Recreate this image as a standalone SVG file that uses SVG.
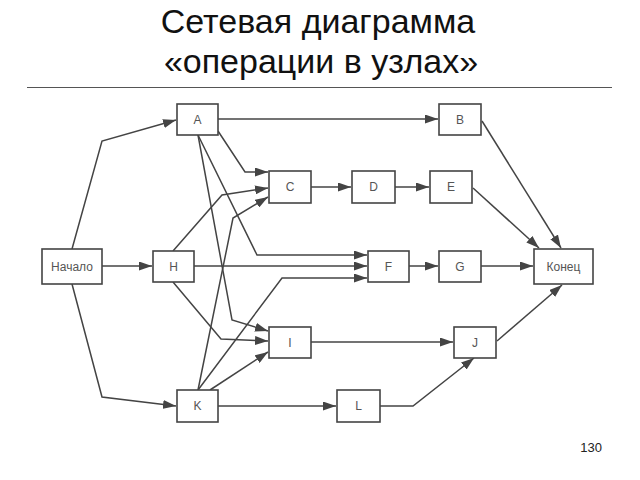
<svg xmlns="http://www.w3.org/2000/svg" width="640" height="480" viewBox="0 0 640 480">
<style>
.title{font-family:"Liberation Sans",Arial,sans-serif;font-size:34px;fill:#111;text-anchor:middle}
.box{fill:#fff;stroke:#444;stroke-width:1.6}
.lbl{font-family:"Liberation Sans",Arial,sans-serif;font-size:12px;fill:#555;text-anchor:middle;dominant-baseline:central}
.edge{fill:none;stroke:#444;stroke-width:1.5;marker-end:url(#arr)}
.page{font-family:"Liberation Sans",Arial,sans-serif;font-size:13px;fill:#222;text-anchor:end}
</style>
<defs>
<marker id="arr" markerUnits="userSpaceOnUse" markerWidth="13" markerHeight="9" refX="13" refY="4.5" orient="auto">
<path d="M0,0 L13,4.5 L0,9 z" fill="#444"/>
</marker>
</defs>
<rect width="640" height="480" fill="#fff"/>
<text class="title" x="318" y="33">Сетевая диаграмма</text>
<text class="title" x="321" y="73">«операции в узлах»</text>
<line x1="27" y1="87.5" x2="612" y2="87.5" stroke="#555" stroke-width="1.2"/>

<g id="connectors">
<polyline class="edge" points="72,249 102,141 176,120"/>
<polyline class="edge" points="102,266 152,266"/>
<polyline class="edge" points="72,284 102,397 176,406"/>
<polyline class="edge" points="218,119 438,119"/>
<polyline class="edge" points="218,131 245,172 268,172"/>
<polyline class="edge" points="173,251 222,195 268,188"/>
<polyline class="edge" points="198,390 233,218 268,197"/>
<polyline class="edge" points="198,135 232,320 268,331"/>
<polyline class="edge" points="198,135 257,255 367,255"/>
<polyline class="edge" points="194,266 367,266"/>
<polyline class="edge" points="198,390 282,278 367,278"/>
<polyline class="edge" points="173,282 221,339 268,341"/>
<polyline class="edge" points="210,390 268,352"/>
<polyline class="edge" points="218,406 336,406"/>
<polyline class="edge" points="311,187 351,187"/>
<polyline class="edge" points="395,187 429,187"/>
<polyline class="edge" points="409,266 438,266"/>
<polyline class="edge" points="481,266 533,266"/>
<polyline class="edge" points="482,121 561,248"/>
<polyline class="edge" points="473,188 539,248"/>
<polyline class="edge" points="311,342 453,342"/>
<polyline class="edge" points="380,406 413,406 474,358"/>
<polyline class="edge" points="497,341 562,285"/>
</g>

<g id="node-start"><rect class="box" x="42" y="249" width="60" height="35"/><text class="lbl" x="72" y="266.5">Начало</text></g>
<g id="node-A"><rect class="box" x="177" y="104" width="41" height="31"/><text class="lbl" x="197.5" y="119.5">A</text></g>
<g id="node-B"><rect class="box" x="439" y="104" width="42" height="31"/><text class="lbl" x="460" y="119.5">B</text></g>
<g id="node-C"><rect class="box" x="269" y="171" width="42" height="32"/><text class="lbl" x="290" y="187">C</text></g>
<g id="node-D"><rect class="box" x="352" y="171" width="43" height="32"/><text class="lbl" x="373.5" y="187">D</text></g>
<g id="node-E"><rect class="box" x="430" y="171" width="42" height="32"/><text class="lbl" x="451" y="187">E</text></g>
<g id="node-H"><rect class="box" x="153" y="251" width="41" height="31"/><text class="lbl" x="173.5" y="266.5">H</text></g>
<g id="node-F"><rect class="box" x="368" y="251" width="41" height="31"/><text class="lbl" x="388.5" y="266.5">F</text></g>
<g id="node-G"><rect class="box" x="439" y="251" width="42" height="31"/><text class="lbl" x="460" y="266.5">G</text></g>
<g id="node-end"><rect class="box" x="534" y="249" width="59" height="35"/><text class="lbl" x="563.5" y="266.5">Конец</text></g>
<g id="node-I"><rect class="box" x="269" y="327" width="42" height="31"/><text class="lbl" x="290" y="342.5">I</text></g>
<g id="node-J"><rect class="box" x="454" y="327" width="42" height="31"/><text class="lbl" x="475" y="342.5">J</text></g>
<g id="node-K"><rect class="box" x="177" y="390" width="41" height="32"/><text class="lbl" x="197.5" y="406">K</text></g>
<g id="node-L"><rect class="box" x="337" y="390" width="43" height="32"/><text class="lbl" x="358.5" y="406">L</text></g>

<text class="page" x="602" y="452">130</text>
</svg>
